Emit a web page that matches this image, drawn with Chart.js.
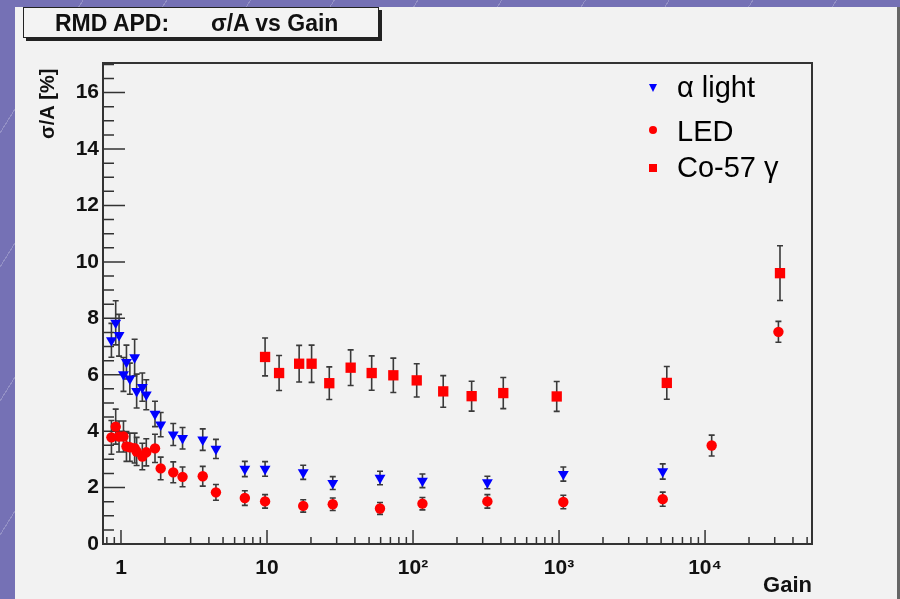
<!DOCTYPE html>
<html>
<head>
<meta charset="utf-8">
<script src="https://cdn.jsdelivr.net/npm/chart.js@4.4.1/dist/chart.umd.min.js"></script>
<style>
  html, body { margin: 0; padding: 0; }
  body {
    width: 900px; height: 599px; overflow: hidden; position: relative;
    background: #7571b5 repeating-linear-gradient(122deg, transparent 0 70px, rgba(255,255,255,0.22) 70px 71px);
    font-family: "Liberation Sans", Arial, sans-serif;
  }
  #panel { position: absolute; left: 15px; top: 7px; width: 882px; height: 592px; background: #f2f2f2; border-right: 3px solid #666; }
  #chart { position: absolute; left: 0; top: 0; }
  #title-box {
    position: absolute; left: 23px; top: 7px; width: 354px; height: 29px;
    border: 1px solid #222; box-shadow: 3px 3px 0 #222; background: #f3f3f3;
    font-weight: bold; font-size: 23px; line-height: 30px; color: #111;
  }
  #title-box span { position: absolute; top: 0; }
  .leg { position: absolute; left: 677px; font-size: 29px; line-height: 30px; color: #000; white-space: nowrap; }
  .mk { position: absolute; }
</style>
</head>
<body>
<div id="panel"></div>
<canvas id="chart" width="900" height="599"></canvas>
<div id="title-box"><span style="left:31px">RMD APD:</span><span style="left:187px">σ/A vs Gain</span></div>
<div class="mk" style="left:649px;top:84px;width:0;height:0;border-left:4px solid transparent;border-right:4px solid transparent;border-top:8px solid #0000ff;"></div>
<div class="leg" style="top:72px">α light</div>
<div class="mk" style="left:649px;top:126px;width:8px;height:8px;border-radius:50%;background:#ff0000;"></div>
<div class="leg" style="top:116px">LED</div>
<div class="mk" style="left:649px;top:164px;width:8px;height:8px;background:#ff0000;"></div>
<div class="leg" style="top:152px">Co-57 γ</div>
<script>
// alpha light
const alphaGain  = [0.86, 0.92, 0.97, 1.04, 1.09, 1.15, 1.24, 1.28, 1.40, 1.49, 1.71, 1.87, 2.28, 2.64, 3.63, 4.47, 7.05, 9.7, 17.7, 28.2, 59.4, 116, 323, 1070, 5130];
const alphaSigma = [7.22, 7.84, 7.40, 6.01, 6.45, 5.86, 6.61, 5.42, 5.56, 5.29, 4.61, 4.23, 3.88, 3.75, 3.70, 3.37, 2.66, 2.66, 2.54, 2.16, 2.34, 2.24, 2.18, 2.48, 2.57];
const alphaErr   = [0.60, 0.78, 0.74, 0.60, 0.60, 0.55, 0.65, 0.60, 0.50, 0.53, 0.45, 0.43, 0.39, 0.38, 0.38, 0.34, 0.27, 0.26, 0.25, 0.23, 0.24, 0.24, 0.22, 0.25, 0.27];

// LED
const ledGain  = [0.86, 0.92, 0.97, 1.04, 1.09, 1.15, 1.24, 1.28, 1.40, 1.49, 1.71, 1.87, 2.28, 2.64, 3.63, 4.47, 7.05, 9.7, 17.7, 28.2, 59.4, 116, 323, 1070, 5130, 11100, 31800];
const ledSigma = [3.78, 4.16, 3.81, 3.81, 3.46, 3.43, 3.40, 3.28, 3.10, 3.25, 3.39, 2.68, 2.54, 2.38, 2.40, 1.83, 1.63, 1.51, 1.35, 1.41, 1.26, 1.43, 1.51, 1.49, 1.59, 3.49, 7.52];
const ledErr   = [0.60, 0.62, 0.55, 0.55, 0.53, 0.50, 0.53, 0.50, 0.47, 0.48, 0.50, 0.40, 0.37, 0.35, 0.35, 0.28, 0.26, 0.24, 0.22, 0.22, 0.21, 0.22, 0.24, 0.24, 0.25, 0.37, 0.37];

// Co-57 gamma
const coGain  = [9.7, 12.1, 16.6, 20.2, 26.7, 37.4, 52.1, 73.3, 106, 161, 252, 415, 964, 5470, 32600];
const coSigma = [6.63, 6.06, 6.39, 6.39, 5.70, 6.25, 6.06, 5.98, 5.80, 5.41, 5.24, 5.35, 5.23, 5.71, 9.60];
const coErr   = [0.67, 0.62, 0.65, 0.66, 0.58, 0.63, 0.61, 0.61, 0.59, 0.56, 0.53, 0.55, 0.53, 0.58, 0.97];

const xLabelValues = [1, 10, 100, 1000, 10000];
const xLabelText = ['1', '10', '10²', '10³', '10⁴'];

const errors = [alphaErr, ledErr, coErr];
const toPoints = (gx, sy) => gx.map((g, i) => ({ x: g, y: sy[i] }));

// ROOT-like frame, inward tick marks and error bars
const rootFrame = {
    id: 'rootFrame',
    beforeDatasetsDraw(chart) {
        const { ctx, chartArea: a, scales: { x, y } } = chart;
        ctx.save();
        ctx.strokeStyle = '#333';
        ctx.lineWidth = 1.5;
        ctx.beginPath();
        for (let v = 0; v <= y.max; v += 0.5) {
            const py = y.getPixelForValue(v);
            const len = v % 2 === 0 ? 22 : 11;
            ctx.moveTo(a.left, py); ctx.lineTo(a.left + len, py);
        }
        for (let d = -1; d <= 4; d++) {
            for (let m = 1; m <= 9; m++) {
                const v = m * Math.pow(10, d);
                if (v < x.min || v > x.max) continue;
                const px = x.getPixelForValue(v);
                const len = m === 1 ? 14 : 7;
                ctx.moveTo(px, a.bottom); ctx.lineTo(px, a.bottom - len);
            }
        }
        ctx.stroke();

        ctx.lineWidth = 2;
        ctx.strokeRect(a.left, a.top, a.right - a.left, a.bottom - a.top);

        ctx.strokeStyle = '#3a3a3a';
        ctx.lineWidth = 1.6;
        chart.data.datasets.forEach((ds, i) => {
            const meta = chart.getDatasetMeta(i);
            ctx.beginPath();
            ds.data.forEach((p, j) => {
                const px = meta.data[j].x;
                const top = y.getPixelForValue(p.y + errors[i][j]);
                const bot = y.getPixelForValue(p.y - errors[i][j]);
                ctx.moveTo(px, top); ctx.lineTo(px, bot);
                ctx.moveTo(px - 3, top); ctx.lineTo(px + 3, top);
                ctx.moveTo(px - 3, bot); ctx.lineTo(px + 3, bot);
            });
            ctx.stroke();
        });
        ctx.restore();
    }
};

const axisFont = { family: '"Liberation Sans", Arial, sans-serif', size: 21, weight: 'bold' };

new Chart(document.getElementById('chart'), {
    type: 'scatter',
    data: {
        datasets: [
            { label: 'α light', data: toPoints(alphaGain, alphaSigma), pointStyle: 'triangle', rotation: 180,
              pointRadius: 6.3, backgroundColor: '#0000ff', borderColor: '#0000ff', borderWidth: 0 },
            { label: 'LED', data: toPoints(ledGain, ledSigma), pointStyle: 'circle',
              pointRadius: 5.2, backgroundColor: '#ff0000', borderColor: '#ff0000', borderWidth: 0 },
            { label: 'Co-57 γ', data: toPoints(coGain, coSigma), pointStyle: 'rect',
              pointRadius: 7.3, backgroundColor: '#ff0000', borderColor: '#ff0000', borderWidth: 0 }
        ]
    },
    options: {
        responsive: false,
        animation: false,
        layout: { padding: { left: 15, top: 63, right: 88, bottom: 0 } },
        plugins: { legend: { display: false }, tooltip: { enabled: false } },
        scales: {
            x: {
                type: 'logarithmic', min: 0.753, max: 54000,
                grid: { display: false, drawTicks: false }, border: { display: false },
                afterBuildTicks: s => { s.ticks = xLabelValues.map(v => ({ value: v })); },
                afterFit: s => { s.height = 55; },
                ticks: {
                    autoSkip: false, maxRotation: 0, padding: 12, color: '#111', font: axisFont,
                    callback: v => xLabelText[xLabelValues.indexOf(v)] ?? ''
                },
                title: { display: true, text: 'Gain', align: 'end', color: '#111',
                         font: { family: axisFont.family, size: 22, weight: 'bold' }, padding: { top: 0, bottom: 0 } }
            },
            y: {
                min: 0, max: 17.05,
                grid: { display: false, drawTicks: false }, border: { display: false },
                afterFit: s => { s.width = 88; },
                ticks: { stepSize: 2, includeBounds: false, padding: 4, color: '#111', font: axisFont },
                title: { display: true, text: 'σ/A [%] ', align: 'end', color: '#111',
                         font: { family: axisFont.family, size: 20, weight: 'bold' }, padding: { top: 21, bottom: 0 } }
            }
        }
    },
    plugins: [rootFrame]
});
</script>
</body>
</html>
